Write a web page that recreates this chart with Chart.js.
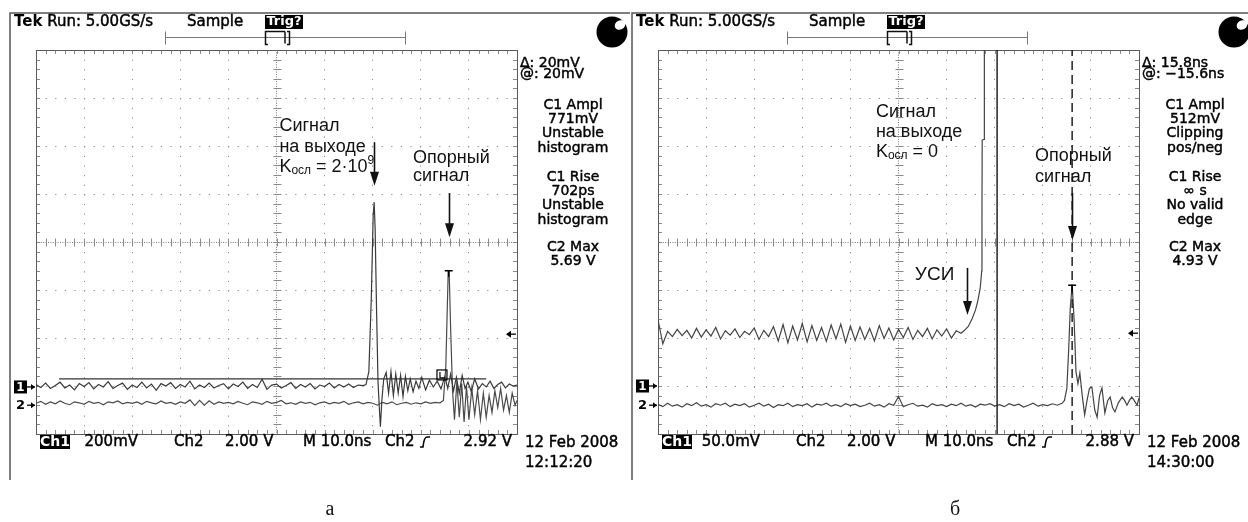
<!DOCTYPE html>
<html lang="ru">
<head>
<meta charset="utf-8">
<title>Осциллограммы</title>
<script src="https://cdn.jsdelivr.net/npm/chart.js@4.4.1/dist/chart.umd.min.js"></script>
<style>
  html, body { margin: 0; padding: 0; background: #fff; }
  #wrap { position: relative; width: 1248px; height: 522px; overflow: hidden; }
  #wrap canvas { position: absolute; top: 0; }
  #cva { left: 0; }
  #cvb { left: 622px; }
</style>
</head>
<body>
<div id="wrap">
  <canvas id="cva" width="630" height="522"></canvas>
  <canvas id="cvb" width="626" height="522"></canvas>
</div>
<script>
// time axis in divisions (10 ns/div), vertical axis in divisions (8 div)
const STEP = 0.1;

// ---- panel а : Kосл = 2·10^9 ----
const a1Base = [
  -2.97,-3.03,-2.94,-3.05,-2.99,-2.92,-3.04,-2.98,-3.08,-2.95,
  -3.01,-2.93,-3.06,-2.97,-3.02,-2.91,-3.05,-2.99,-2.94,-3.07,
  -2.98,-3.03,-2.92,-3.04,-2.96,-3.09,-2.95,-3.00,-2.93,-3.05,
  -2.97,-3.02,-2.90,-3.06,-2.98,-3.03,-2.94,-3.04,-2.99,-2.95,
  -3.06,-2.96,-3.01,-2.92,-3.05,-2.97,-3.03,-2.86,-3.07,-2.98,
  -2.96,-3.04,-2.99,-2.93,-3.05,-2.97,-3.02,-2.95,-3.06,-2.98,
  -3.01,-2.94,-3.04,-2.97,-3.02,-2.96,-3.03,-2.98,-2.99
];
const a1T = [6.86,6.92,6.97,7.01,7.03,7.05,7.08,7.11,7.14,7.16,
  7.19,7.23,7.28,7.33,7.38,7.43,7.48,7.53,7.58,7.63,
  7.68,7.73,7.78,7.84,7.9,7.96,8.02,8.1,8.18,8.26,
  8.34,8.42,8.5,8.56,8.62,8.68,8.74,8.8,8.86,8.92,
  8.98,9.05,9.12,9.2,9.28,9.36,9.44,9.52,9.6,9.68,
  9.76,9.84,9.92,10.0];
const a1V = [-2.97,-2.7,-1.2,0.55,0.83,0.3,-1.4,-2.9,-3.5,-3.85,
  -3.3,-2.85,-2.72,-3.15,-2.7,-3.2,-2.75,-3.15,-2.78,-3.22,
  -2.8,-3.1,-2.85,-3.12,-2.9,-3.05,-2.82,-3.08,-2.88,-3.02,
  -2.9,-3.06,-2.8,-3.05,-2.75,-3.1,-2.82,-3.15,-2.78,-3.05,
  -2.92,-3.12,-2.85,-3.06,-2.95,-3.02,-2.9,-3.05,-2.97,-2.92,
  -3.04,-2.96,-3.0,-2.98];

const a2Base = [
  -3.36,-3.32,-3.38,-3.33,-3.37,-3.31,-3.36,-3.39,-3.33,-3.35,
  -3.38,-3.32,-3.36,-3.34,-3.39,-3.33,-3.35,-3.31,-3.37,-3.34,
  -3.36,-3.33,-3.38,-3.32,-3.35,-3.37,-3.31,-3.36,-3.34,-3.38,
  -3.33,-3.36,-3.29,-3.41,-3.30,-3.40,-3.31,-3.38,-3.33,-3.36,
  -3.34,-3.37,-3.32,-3.36,-3.39,-3.33,-3.35,-3.38,-3.32,-3.36,
  -3.34,-3.30,-3.37,-3.35,-3.38,-3.33,-3.36,-3.34,-3.39,-3.35,
  -3.33,-3.37,-3.34,-3.36,-3.32,-3.38,-3.35,-3.33,-3.37,-3.34,
  -3.36,-3.40,-3.34,-3.37,-3.33,-3.39,-3.36,-3.34,-3.38,-3.35,
  -3.37,-3.33,-3.36,-3.34,-3.35
];
const a2T = [8.47,8.52,8.55,8.57,8.59,8.62,8.66,8.70,8.75,8.80,
  8.85,8.90,8.95,9.0,9.06,9.12,9.18,9.24,9.3,9.36,
  9.42,9.48,9.54,9.6,9.66,9.72,9.78,9.84,9.9,9.96,10.0];
const a2V = [-3.3,-2.6,-1.4,-0.6,-0.62,-1.8,-3.1,-3.7,-2.9,-3.65,
  -2.95,-3.75,-3.0,-3.7,-3.05,-3.6,-3.1,-3.7,-3.15,-3.65,
  -3.2,-3.55,-3.1,-3.45,-3.05,-3.5,-3.2,-3.55,-3.15,-3.4,-3.3];

const aCursorLevel = -2.85;
const aCursorSpan = [0.48, 9.36];
const aTrigPoint = [8.58, -0.6];
const aTrigLevel = -1.92;

// ---- panel б : Kосл = 0 ----
const b1Base = [
  -1.62,-2.12,-1.86,-1.97,-1.82,-1.95,-1.84,-2.00,-1.80,-1.98,
  -1.83,-1.96,-1.78,-2.02,-1.85,-1.94,-1.81,-1.99,-1.86,-1.93,
  -1.79,-2.03,-1.84,-1.97,-1.76,-2.06,-1.72,-2.10,-1.75,-2.04,
  -1.70,-2.08,-1.74,-2.05,-1.78,-2.07,-1.73,-2.02,-1.71,-2.09,
  -1.75,-2.05,-1.77,-2.03,-1.80,-2.06,-1.74,-2.01,-1.79,-2.04,
  -1.82,-1.99,-1.78,-2.03,-1.84,-1.97,-1.80,-2.02,-1.83,-1.96,
  -1.81,-2.00,-1.85,-1.90
];
const b1T = [6.36,6.45,6.53,6.60,6.65,6.70,6.73,6.735,6.74,6.78,6.785];
const b1V = [-1.85,-1.76,-1.6,-1.42,-1.22,-0.95,-0.6,0.5,2.12,2.14,4.3];

const b2Base = [
  -3.38,-3.43,-3.36,-3.42,-3.39,-3.44,-3.37,-3.41,-3.35,-3.42,
  -3.39,-3.44,-3.37,-3.40,-3.36,-3.43,-3.38,-3.41,-3.37,-3.44,
  -3.40,-3.36,-3.42,-3.38,-3.45,-3.39,-3.41,-3.36,-3.43,-3.39,
  -3.41,-3.37,-3.44,-3.38,-3.40,-3.36,-3.42,-3.39,-3.43,-3.37,
  -3.41,-3.38,-3.43,-3.40,-3.36,-3.42,-3.39,-3.44,-3.37,-3.40,
  -3.22,-3.43,-3.39,-3.36,-3.42,-3.40,-3.44,-3.37,-3.41,-3.39,
  -3.43,-3.38,-3.41,-3.36,-3.42,-3.39,-3.44,-3.38,-3.40,-3.37,
  -3.42,-3.39,-3.43,-3.37,-3.41,-3.38,-3.44,-3.40,-3.36,-3.42,
  -3.39,-3.41,-3.37,-3.40,-3.36
];
const b2T = [8.45,8.50,8.54,8.57,8.61,8.65,8.69,8.73,8.77,8.82,
  8.87,8.92,8.97,9.02,9.08,9.13,9.18,9.23,9.29,9.35,
  9.40,9.45,9.50,9.57,9.65,9.70,9.75,9.80,9.85,9.90,9.96,10.0];
const b2V = [-3.3,-3.05,-2.2,-1.4,-0.88,-1.6,-2.7,-2.95,-2.73,-3.2,
  -3.6,-3.3,-3.05,-3.02,-3.5,-3.65,-3.2,-3.04,-3.56,-3.3,
  -3.23,-3.45,-3.54,-3.35,-3.23,-3.3,-3.4,-3.3,-3.23,-3.3,-3.4,-3.25];

const bCursorSolid = 7.05;
const bCursorDashed = 8.61;
const bTrigPoint = [8.61, -0.9];
const bTrigLevel = -1.9;

// ---- texts ----
const aCursorText = ['Δ: 20mV', '@: 20mV'];
const bCursorText = ['Δ: 15.8ns', '@: −15.6ns'];
const aMeasure = [['C1 Ampl', '771mV', 'Unstable', 'histogram'], ['C1 Rise', '702ps', 'Unstable', 'histogram'], ['C2 Max', '5.69 V']];
const bMeasure = [['C1 Ampl', '512mV', 'Clipping', 'pos/neg'], ['C1 Rise', '∞ s', 'No valid', 'edge'], ['C2 Max', '4.93 V']];
const aBottom = ['200mV', '2.00 V', 'M 10.0ns', '2.92 V'];
const bBottom = ['50.0mV', '2.00 V', 'M 10.0ns', '2.88 V'];
const aStamp = ['12 Feb 2008', '12:12:20'];
const bStamp = ['12 Feb 2008', '14:30:00'];

// annotations in graticule units: [t, v, parts]
const aNotes = [
  [5.06, 2.42, [['Сигнал', 'n']]],
  [5.06, 1.98, [['на выходе', 'n']]],
  [5.06, 1.56, [['K', 'n'], ['осл', 'sub'], [' = 2·10', 'n'], ['9', 'sup']]],
  [7.84, 1.75, [['Опорный', 'n']]],
  [7.84, 1.375, [['сигнал', 'n']]]
];
const aArrows = [[7.03, 2.08, 1.17], [8.59, 1.02, 0.10]];
const bNotes = [
  [4.53, 2.71, [['Сигнал', 'n']]],
  [4.53, 2.29, [['на выходе', 'n']]],
  [4.53, 1.875, [['K', 'n'], ['осл', 'sub'], [' = 0', 'n']]],
  [7.84, 1.79, [['Опорный', 'n']]],
  [7.84, 1.35, [['сигнал', 'n']]],
  [5.34, -0.69, [['УСИ', 'big']]]
];
const bArrows = [[8.61, 1.02, 0.04], [6.42, -0.54, -1.52]];

function series(base, tt, vv) {
  const pts = base.map((v, i) => ({ x: +(i * STEP).toFixed(2), y: v }));
  tt.forEach((t, i) => pts.push({ x: t, y: vv[i] }));
  return pts;
}

const MONO = '"DejaVu Sans", Verdana, sans-serif';
const SANS = '"Liberation Sans", Arial, sans-serif';

// screen text is a little heavier than plain DejaVu, so add a hairline stroke
function txt(ctx, s, x, y, font, align, color, heavy) {
  ctx.font = font;
  ctx.textAlign = align || 'left';
  ctx.fillStyle = color || '#000';
  ctx.fillText(s, x, y);
  if (heavy) {
    ctx.lineWidth = 0.45;
    ctx.strokeStyle = color || '#000';
    ctx.strokeText(s, x, y);
  }
}

function scopePlugin(p) {
  return {
    id: 'scope',
    beforeDatasetsDraw(chart) {
      const { ctx, chartArea: a, scales: { x, y } } = chart;
      ctx.save();
      ctx.strokeStyle = '#8a8a8a';
      ctx.lineWidth = 1;
      ctx.beginPath();
      const cx = Math.round(x.getPixelForValue(5)) + 0.5;
      const cy = Math.round(y.getPixelForValue(0)) + 0.5;
      for (let k = 0; k <= 50; k++) {
        const px = Math.round(x.getPixelForValue(k / 5)) + 0.5;
        ctx.moveTo(px, a.top); ctx.lineTo(px, a.top + 4);
        ctx.moveTo(px, a.bottom); ctx.lineTo(px, a.bottom - 4);
        ctx.moveTo(px, cy - 4); ctx.lineTo(px, cy + 4);
      }
      for (let k = 0; k <= 40; k++) {
        const py = Math.round(y.getPixelForValue(-4 + k / 5)) + 0.5;
        ctx.moveTo(a.left, py); ctx.lineTo(a.left + 4, py);
        ctx.moveTo(a.right, py); ctx.lineTo(a.right - 4, py);
        ctx.moveTo(cx - 4, py); ctx.lineTo(cx + 4, py);
      }
      ctx.stroke();
      ctx.strokeStyle = '#5a5a5a';
      ctx.strokeRect(Math.round(a.left) + 0.5, Math.round(a.top) + 0.5, Math.round(a.width), Math.round(a.height));
      ctx.restore();
    },
    afterDraw(chart) {
      const { ctx, chartArea: a, scales: { x, y }, width: W } = chart;
      ctx.save();
      ctx.textBaseline = 'middle';

      // photo frame
      ctx.strokeStyle = '#555';
      ctx.lineWidth = 1.5;
      ctx.beginPath();
      ctx.moveTo(10, 480); ctx.lineTo(10, 13); ctx.lineTo(W, 13);
      ctx.stroke();

      // header
      const hy = a.top - 28;
      txt(ctx, 'Tek', a.left - 22, hy, 'bold 15px ' + MONO);
      const tw = ctx.measureText('Tek').width;
      txt(ctx, ' Run: 5.00GS/s', a.left - 22 + tw, hy, '15px ' + MONO, 'left', '#000', true);
      txt(ctx, 'Sample', a.left + 151, hy, '15px ' + MONO, 'left', '#000', true);
      ctx.fillStyle = '#000';
      ctx.fillRect(a.left + 229, hy - 7, 38, 14);
      txt(ctx, 'Trig?', a.left + 248, hy, 'bold 13px ' + MONO, 'center', '#fff');

      // record / trigger position bar
      ctx.strokeStyle = '#777';
      ctx.lineWidth = 1;
      const by = a.top - 13 + 0.5;
      ctx.beginPath();
      ctx.moveTo(a.left + 129, by); ctx.lineTo(a.left + 370, by);
      ctx.moveTo(a.left + 129.5, by - 6); ctx.lineTo(a.left + 129.5, by + 7);
      ctx.moveTo(a.left + 369.5, by - 6); ctx.lineTo(a.left + 369.5, by + 7);
      ctx.stroke();
      ctx.strokeStyle = '#111';
      ctx.lineWidth = 1.5;
      ctx.beginPath();
      ctx.moveTo(a.left + 232, by - 6); ctx.lineTo(a.left + 229.5, by - 6); ctx.lineTo(a.left + 229.5, by + 7); ctx.lineTo(a.left + 232, by + 7);
      ctx.moveTo(a.left + 229.5, by - 6); ctx.lineTo(a.left + 249, by - 6);
      ctx.moveTo(a.left + 249, by - 6); ctx.lineTo(a.left + 249, by + 6);
      ctx.moveTo(a.left + 251, by - 6); ctx.lineTo(a.left + 253.5, by - 6); ctx.lineTo(a.left + 253.5, by + 7); ctx.lineTo(a.left + 251, by + 7);
      ctx.stroke();

      // lens logo
      ctx.fillStyle = '#000';
      ctx.beginPath(); ctx.arc(a.right + 95, 32, 15.5, 0, Math.PI * 2); ctx.fill();
      ctx.fillStyle = '#fff';
      ctx.beginPath(); ctx.ellipse(a.right + 103, 25, 5.5, 4.5, -0.5, 0, Math.PI * 2); ctx.fill();

      // cursor readout and measurements
      txt(ctx, p.cursorText[0], a.right + 3, a.top + 13, '14px ' + MONO, 'left', '#000', true);
      txt(ctx, p.cursorText[1], a.right + 3, a.top + 24, '14px ' + MONO, 'left', '#000', true);
      const groupTop = [a.top + 55, a.top + 127, a.top + 197];
      p.measure.forEach((g, gi) => g.forEach((s, li) =>
        txt(ctx, s, a.right + 56, groupTop[gi] + li * 14.4, '14px ' + MONO, 'center', '#000', true)));

      // bottom status line
      const ly = a.bottom + 8;
      ctx.fillStyle = '#000';
      ctx.fillRect(a.left + 4, ly - 7, 30, 14);
      txt(ctx, 'Ch1', a.left + 19, ly, 'bold 14px ' + MONO, 'center', '#fff');
      txt(ctx, p.bottom[0], a.left + 102, ly, '15px ' + MONO, 'right', '#000', true);
      txt(ctx, 'Ch2', a.left + 138, ly, '15px ' + MONO, 'left', '#000', true);
      txt(ctx, p.bottom[1], a.left + 189, ly, '15px ' + MONO, 'left', '#000', true);
      txt(ctx, p.bottom[2], a.left + 267, ly, '15px ' + MONO, 'left', '#000', true);
      txt(ctx, 'Ch2', a.left + 349, ly, '15px ' + MONO, 'left', '#000', true);
      ctx.strokeStyle = '#000';
      ctx.lineWidth = 1.6;
      ctx.beginPath();
      const ex = a.left + 384;
      ctx.moveTo(ex, ly + 5); ctx.lineTo(ex + 3, ly + 5);
      ctx.quadraticCurveTo(ex + 4, ly - 5, ex + 7, ly - 5); ctx.lineTo(ex + 10, ly - 5);
      ctx.stroke();
      txt(ctx, p.bottom[3], a.right - 5, ly, '15px ' + MONO, 'right', '#000', true);
      txt(ctx, p.stamp[0], a.right + 8, ly + 1, '15px ' + MONO, 'left', '#000', true);
      txt(ctx, p.stamp[1], a.right + 8, ly + 21, '15px ' + MONO, 'left', '#000', true);

      // channel ground markers
      const m1 = y.getPixelForValue(p.mark1), m2 = y.getPixelForValue(p.mark2);
      ctx.fillStyle = '#000';
      ctx.fillRect(a.left - 22, m1 - 6.5, 13, 13);
      txt(ctx, '1', a.left - 15.5, m1 + 0.5, 'bold 12px ' + MONO, 'center', '#fff');
      txt(ctx, '2', a.left - 15.5, m2 + 0.5, 'bold 13px ' + MONO, 'center', '#000');
      [m1, m2].forEach(m => {
        ctx.strokeStyle = '#000'; ctx.lineWidth = 1.3; ctx.fillStyle = '#000';
        ctx.beginPath(); ctx.moveTo(a.left - 9, m); ctx.lineTo(a.left - 1, m); ctx.stroke();
        ctx.beginPath(); ctx.moveTo(a.left - 1, m); ctx.lineTo(a.left - 5, m - 3); ctx.lineTo(a.left - 5, m + 3); ctx.closePath(); ctx.fill();
      });

      // trigger level marker
      const tl = y.getPixelForValue(p.trigLevel);
      ctx.lineWidth = 1.3;
      ctx.beginPath(); ctx.moveTo(a.right - 1, tl); ctx.lineTo(a.right - 10, tl); ctx.stroke();
      ctx.beginPath(); ctx.moveTo(a.right - 11, tl); ctx.lineTo(a.right - 6, tl - 3.5); ctx.lineTo(a.right - 6, tl + 3.5); ctx.closePath(); ctx.fill();

      // trigger point 'T'
      const tx = x.getPixelForValue(p.trigPoint[0]), ty = y.getPixelForValue(p.trigPoint[1]);
      ctx.lineWidth = 1.5;
      ctx.beginPath(); ctx.moveTo(tx - 4, ty); ctx.lineTo(tx + 4, ty); ctx.moveTo(tx, ty); ctx.lineTo(tx, ty + 6); ctx.stroke();

      if (p.boxMark) {
        const bx = x.getPixelForValue(p.boxMark[0]), byy = y.getPixelForValue(p.boxMark[1]);
        ctx.lineWidth = 1.2;
        ctx.strokeRect(bx - 5, byy - 5, 10, 10);
        ctx.beginPath(); ctx.moveTo(bx - 2, byy - 3); ctx.lineTo(bx - 2, byy + 3); ctx.lineTo(bx + 3, byy + 3); ctx.stroke();
      }

      // annotations
      ctx.textAlign = 'left';
      ctx.fillStyle = '#111';
      p.notes.forEach(([t, v, parts]) => {
        let nx = x.getPixelForValue(t);
        const ny = y.getPixelForValue(v);
        parts.forEach(([s, kind]) => {
          const size = kind === 'n' ? 18 : kind === 'big' ? 19 : 12;
          const dy = kind === 'sub' ? 4 : kind === 'sup' ? -6 : 0;
          ctx.font = size + 'px ' + SANS;
          ctx.fillText(s, nx, ny + dy);
          nx += ctx.measureText(s).width;
        });
      });
      ctx.strokeStyle = '#111';
      ctx.lineWidth = 1.6;
      p.arrows.forEach(([t, v0, v1]) => {
        const ax = Math.round(x.getPixelForValue(t)) + 0.5;
        const y0 = y.getPixelForValue(v0), y1 = y.getPixelForValue(v1);
        ctx.beginPath(); ctx.moveTo(ax, y0); ctx.lineTo(ax, y1 - 10); ctx.stroke();
        ctx.beginPath(); ctx.moveTo(ax - 4.5, y1 - 14); ctx.lineTo(ax + 4.5, y1 - 14); ctx.lineTo(ax, y1); ctx.closePath(); ctx.fill();
      });

      // figure caption
      txt(ctx, p.caption, p.captionX, 510, '20px "Liberation Serif", "Times New Roman", serif', 'center', '#111');
      ctx.restore();
    }
  };
}

function makeScope(id, p, datasets) {
  const cv = document.getElementById(id);
  return new Chart(cv, {
    type: 'line',
    data: { datasets: datasets },
    options: {
      responsive: false,
      animation: false,
      devicePixelRatio: 1,
      parsing: false,
      layout: { padding: { left: 36, top: 50, right: cv.width - 517, bottom: 88 } },
      plugins: { legend: { display: false }, tooltip: { enabled: false } },
      elements: { point: { radius: 0 }, line: { tension: 0 } },
      scales: {
        x: {
          type: 'linear', min: 0, max: 10,
          ticks: { display: false, stepSize: 1 },
          grid: { drawTicks: false, lineWidth: 1, color: ctx => (ctx.tick && ctx.tick.value === 5) ? '#7a7a7a' : '#8c8c8c' },
          border: { display: false, dash: ctx => (ctx.tick && ctx.tick.value === 5) ? [1, 1.4] : [1.2, 8.42] },
          afterFit: s => { s.height = 0; }
        },
        y: {
          type: 'linear', min: -4, max: 4,
          ticks: { display: false, stepSize: 1 },
          grid: { drawTicks: false, lineWidth: 1, color: ctx => (ctx.tick && ctx.tick.value === 0) ? '#7a7a7a' : '#8c8c8c' },
          border: { display: false, dash: ctx => (ctx.tick && ctx.tick.value === 0) ? [1, 1.4] : [1.2, 8.4] },
          afterFit: s => { s.width = 0; }
        }
      }
    },
    plugins: [scopePlugin(p)]
  });
}

const trace = (data, color) => ({ data: data, borderColor: color, borderWidth: 1.2, fill: false });

makeScope('cva', {
  cursorText: aCursorText, measure: aMeasure, bottom: aBottom, stamp: aStamp,
  mark1: -3.02, mark2: -3.4, trigLevel: aTrigLevel, trigPoint: aTrigPoint,
  boxMark: [8.44, -2.77], notes: aNotes, arrows: aArrows, caption: 'а', captionX: 330
}, [
  trace([{ x: aCursorSpan[0], y: aCursorLevel }, { x: aCursorSpan[1], y: aCursorLevel }], '#333'),
  trace(series(a1Base, a1T, a1V), '#3a3a3a'),
  trace(series(a2Base, a2T, a2V), '#4a4a4a')
]);

makeScope('cvb', {
  cursorText: bCursorText, measure: bMeasure, bottom: bBottom, stamp: bStamp,
  mark1: -3.0, mark2: -3.4, trigLevel: bTrigLevel, trigPoint: bTrigPoint,
  boxMark: null, notes: bNotes, arrows: bArrows, caption: 'б', captionX: 333
}, [
  Object.assign(trace([{ x: bCursorSolid, y: -4 }, { x: bCursorSolid, y: 4 }], '#222'), { borderWidth: 1.5 }),
  Object.assign(trace([{ x: bCursorDashed, y: -4 }, { x: bCursorDashed, y: 4 }], '#222'), { borderWidth: 1.5, borderDash: [9, 5] }),
  trace(series(b1Base, b1T, b1V), '#444'),
  trace(series(b2Base, b2T, b2V), '#444')
]);
</script>
</body>
</html>
